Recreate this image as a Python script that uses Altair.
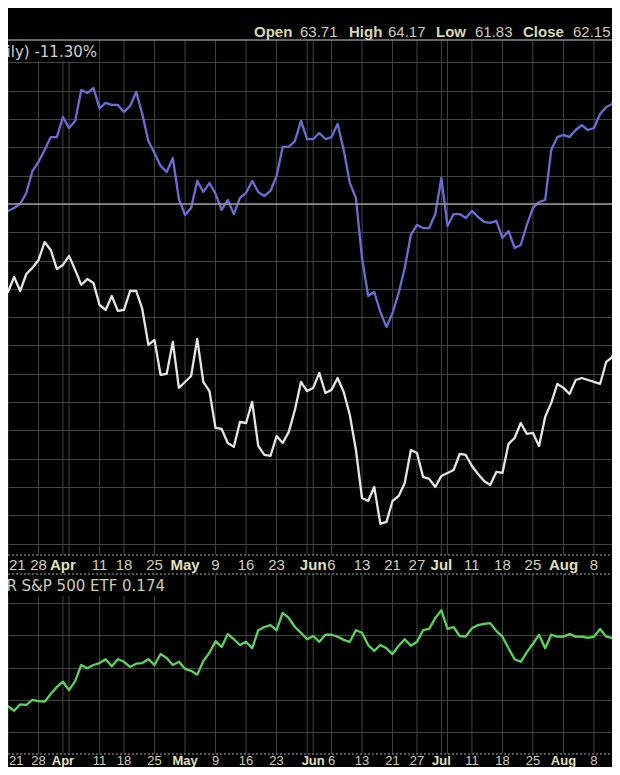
import altair as alt
import pandas as pd

# ---------------- data (trading-day index, 0 = Mon 21 Mar) ----------------
days = list(range(-1, 102))

blue_pct = [-1.06, -0.49, -0.28, 0.00, 0.78, 2.33, 2.97, 3.82, 4.73, 4.73,
            6.15, 5.37, 5.87, 8.06, 7.84, 8.20, 6.78, 7.14, 7.00, 7.00,
            6.50, 6.93, 7.92, 6.36, 4.45, 3.60, 2.69, 2.26, 3.25, 0.35,
            -0.78, -0.28, 1.63, 0.85, 1.48, 0.71, -0.42, 0.28, -0.71, 0.42,
            0.78, 1.63, 0.85, 0.57, 0.92, 1.98, 4.03, 4.03, 4.45, 5.87,
            4.59, 4.59, 5.02, 4.59, 4.73, 5.65, 3.82, 1.48, 0.42, -3.82,
            -6.50, -6.22, -7.63, -8.69, -7.70, -6.29, -4.52, -2.19, -1.48, -1.70,
            -1.70, -0.71, 1.84, -1.55, -0.71, -0.71, -0.99, -0.49, -0.92, -1.27,
            -1.34, -1.20, -2.40, -1.91, -3.11, -2.90, -1.48, -0.28, 0.14, 0.28,
            3.82, 4.73, 4.88, 4.73, 5.23, 5.58, 5.23, 5.37, 6.36, 6.86,
            7.07, 8.48, 9.47]

white_pct = [-6.29, -6.22, -5.16, -6.15, -4.95, -4.52, -3.96, -2.69, -3.25, -4.59,
             -4.31, -3.67, -4.66, -5.72, -5.30, -5.58, -7.14, -7.49, -6.50, -7.56,
             -7.49, -6.15, -6.15, -7.42, -9.96, -9.61, -12.08, -12.01, -9.75, -13.00,
             -12.58, -12.16, -9.54, -12.58, -13.22, -15.83, -15.90, -16.89, -17.17, -15.41,
             -15.48, -13.99, -17.10, -17.74, -17.81, -16.40, -16.89, -16.11, -14.56, -12.58,
             -13.22, -13.00, -11.94, -13.36, -13.14, -12.30, -13.29, -14.91, -17.39, -20.78,
             -20.99, -20.00, -22.61, -22.47, -20.99, -20.64, -19.72, -17.39, -17.60, -19.29,
             -19.43, -20.00, -19.22, -19.01, -18.80, -17.67, -17.74, -18.52, -19.08, -19.58,
             -19.86, -18.94, -19.01, -16.96, -16.54, -15.48, -16.25, -16.18, -17.10, -15.05,
             -14.06, -12.72, -13.00, -13.43, -12.44, -12.30, -12.44, -12.58, -12.72, -11.17,
             -10.81, -9.33, -8.90]

spy_ratio = [0.1637, 0.1640, 0.1633, 0.1643, 0.1642, 0.1650, 0.1648, 0.1647, 0.1659, 0.1670,
             0.1678, 0.1665, 0.1679, 0.1704, 0.1699, 0.1704, 0.1707, 0.1713, 0.1702, 0.1713,
             0.1709, 0.1701, 0.1706, 0.1707, 0.1713, 0.1704, 0.1721, 0.1715, 0.1704, 0.1709,
             0.1698, 0.1695, 0.1689, 0.1710, 0.1723, 0.1741, 0.1732, 0.1752, 0.1744, 0.1735,
             0.1740, 0.1730, 0.1758, 0.1763, 0.1766, 0.1758, 0.1785, 0.1777, 0.1763, 0.1754,
             0.1744, 0.1749, 0.1740, 0.1751, 0.1751, 0.1748, 0.1743, 0.1740, 0.1758, 0.1754,
             0.1735, 0.1726, 0.1735, 0.1730, 0.1721, 0.1734, 0.1744, 0.1734, 0.1740, 0.1758,
             0.1760, 0.1777, 0.1789, 0.1760, 0.1763, 0.1749, 0.1748, 0.1761, 0.1766, 0.1768,
             0.1769, 0.1757, 0.1748, 0.1730, 0.1713, 0.1709, 0.1724, 0.1737, 0.1751, 0.1730,
             0.1751, 0.1748, 0.1748, 0.1752, 0.1748, 0.1748, 0.1746, 0.1748, 0.1760, 0.1748,
             0.1746, 0.1746, 0.1746]

tick_days = [0, 5, 9, 10, 15, 19, 24, 29, 34, 39, 44, 49, 50, 53, 58, 63, 67, 71, 72,
             76, 81, 86, 91, 96]
tick_labels = ["21", "28", "Apr", "", "11", "18", "25", "May", "9", "16", "23", "", "Jun",
               "6", "13", "21", "27", "Jul", "", "11", "18", "25", "Aug", "8"]
month_days = [9, 29, 50, 71, 91]

top_grid = list(range(-24, 12, 2))
bottom_grid = [0.160, 0.165, 0.170, 0.175, 0.180]

header_words = ["Open", "63.71", "High", "64.17", "Low", "61.83", "Close", "62.15"]
header_bold = [True, False, True, False, True, False, True, False]
header_x = [246, 292, 341, 380, 428, 467, 515, 565]

top_label = "(Daily) -11.30%"
bottom_label = "SPDR S&P 500 ETF 0.174"

# ---------------- layout / styling ----------------
W, H = 604, 759
PX_PER_DAY = 6.104
TOP_Y0, TOP_Y1 = 32, 547      # top panel (pixels inside the chart)
BOT_Y0, BOT_Y1 = 566, 746     # bottom panel
GRID = "#424242"
BAND = "#a8a8a8"

df = pd.DataFrame({"day": days, "blue": blue_pct, "white": white_pct, "ratio": spy_ratio})
ticks = pd.DataFrame({"day": tick_days, "label": tick_labels,
                      "month": [d in month_days for d in tick_days]})
one = pd.DataFrame({"k": [0]})

x_scale = alt.Scale(domain=[0, W / PX_PER_DAY], nice=False, zero=False)
top_scale = alt.Scale(domain=[-24.81, 11.59], range=[TOP_Y1, TOP_Y0], nice=False, zero=False)
bot_scale = alt.Scale(domain=[0.15658, 0.18453], range=[BOT_Y1, BOT_Y0], nice=False, zero=False)


def xq():
    return alt.X("day:Q", scale=x_scale, axis=None)


def y_axis(vals, orient):
    return alt.Axis(orient=orient, values=vals, grid=True, gridColor=GRID, gridWidth=1,
                    labels=False, ticks=False, domain=False, title=None,
                    minExtent=0, maxExtent=0)


top_axis = y_axis(top_grid, "left")
bot_axis = y_axis(bottom_grid, "right")

layers = []

# vertical grid lines at the week / month ticks
for y0, y1 in [(TOP_Y0, TOP_Y1), (BOT_Y0, BOT_Y1)]:
    layers.append(alt.Chart(ticks).mark_rule(color=GRID, strokeWidth=1, clip=True).encode(
        x=xq(), y=alt.value(y0), y2=alt.value(y1)))

# panel borders / band lines
layers.append(alt.Chart(one).mark_rule(color="#8a8a8a", strokeWidth=1.5).encode(
    x=alt.value(0), x2=alt.value(W), y=alt.value(TOP_Y0)))
for yy in [TOP_Y1, BOT_Y0, BOT_Y1]:
    layers.append(alt.Chart(one).mark_rule(color=BAND, strokeWidth=1, strokeDash=[2, 2]).encode(
        x=alt.value(0), x2=alt.value(W), y=alt.value(yy)))

# label backgrounds
layers.append(alt.Chart(one).mark_rect(color="#000000").encode(
    x=alt.value(0), x2=alt.value(91), y=alt.value(TOP_Y0 + 1), y2=alt.value(TOP_Y0 + 21)))
layers.append(alt.Chart(one).mark_rect(color="#000000").encode(
    x=alt.value(0), x2=alt.value(160), y=alt.value(BOT_Y0 + 1), y2=alt.value(BOT_Y0 + 22)))

# top panel: two performance lines + zero line (shared y scale)
white_line = alt.Chart(df).mark_line(color="#e6e6e6", strokeWidth=2.3, clip=True,
                                     strokeJoin="round").encode(
    x=xq(), y=alt.Y("white:Q", scale=top_scale, axis=top_axis))
blue_line = alt.Chart(df).mark_line(color="#6c6cd6", strokeWidth=2.3, clip=True,
                                    strokeJoin="round").encode(
    x=xq(), y=alt.Y("blue:Q", scale=top_scale, axis=top_axis))
zero_line = alt.Chart(one).mark_rule(color="#9a9a9a", strokeWidth=1.5).encode(
    y=alt.YDatum(0, type="quantitative", scale=top_scale, axis=top_axis))
layers.append(alt.layer(white_line, blue_line, zero_line))

# bottom panel: ratio line
layers.append(alt.Chart(df).mark_line(color="#58d658", strokeWidth=2.3, clip=True,
                                      strokeJoin="round").encode(
    x=xq(), y=alt.Y("ratio:Q", scale=bot_scale, axis=bot_axis)))

# x tick labels in the two date bands
for ymid, fsize in [(TOP_Y1 + 10, 15), (BOT_Y1 + 6.5, 13)]:
    base = alt.Chart(ticks)
    layers.append(base.transform_filter("datum.month").mark_text(
        font="Liberation Sans", fontSize=fsize, fontWeight="bold", color="#e2e2bc",
        baseline="middle", align="center", clip=True).encode(
        x=xq(), y=alt.value(ymid), text="label:N"))
    layers.append(base.transform_filter("!datum.month && datum.day > 0").mark_text(
        font="Liberation Sans", fontSize=fsize, color="#d0d0b4",
        baseline="middle", align="center", clip=True).encode(
        x=xq(), y=alt.value(ymid), text="label:N"))
    layers.append(base.transform_filter("datum.day == 0").mark_text(
        font="Liberation Sans", fontSize=fsize, color="#d0d0b4",
        baseline="middle", align="left", dx=1, clip=True).encode(
        x=xq(), y=alt.value(ymid), text="label:N"))

# header quote line
for word, bold, xp in zip(header_words, header_bold, header_x):
    layers.append(alt.Chart(one).mark_text(
        text=word, align="left", baseline="alphabetic", font="Liberation Sans",
        fontSize=15, fontWeight="bold" if bold else "normal",
        color="#d9d9ad" if bold else "#cdcdb5").encode(x=alt.value(xp), y=alt.value(29)))

# series captions
layers.append(alt.Chart(one).mark_text(
    text=top_label, align="right", baseline="alphabetic", font="DejaVu Sans",
    fontSize=15, color="#cfcfcf", clip=True).encode(x=alt.value(89), y=alt.value(TOP_Y0 + 17)))
layers.append(alt.Chart(one).mark_text(
    text=bottom_label, align="right", baseline="alphabetic", font="DejaVu Sans",
    fontSize=15, color="#cdcdb0", clip=True).encode(x=alt.value(157), y=alt.value(BOT_Y0 + 17)))

chart = alt.layer(*layers).resolve_scale(y="independent").properties(
    width=W, height=H, padding=0, background="#000000",
    autosize=alt.AutoSizeParams(type="none"),
).configure_view(stroke="transparent")

chart.save("out.html", embed_options={"renderer": "svg", "actions": False})
